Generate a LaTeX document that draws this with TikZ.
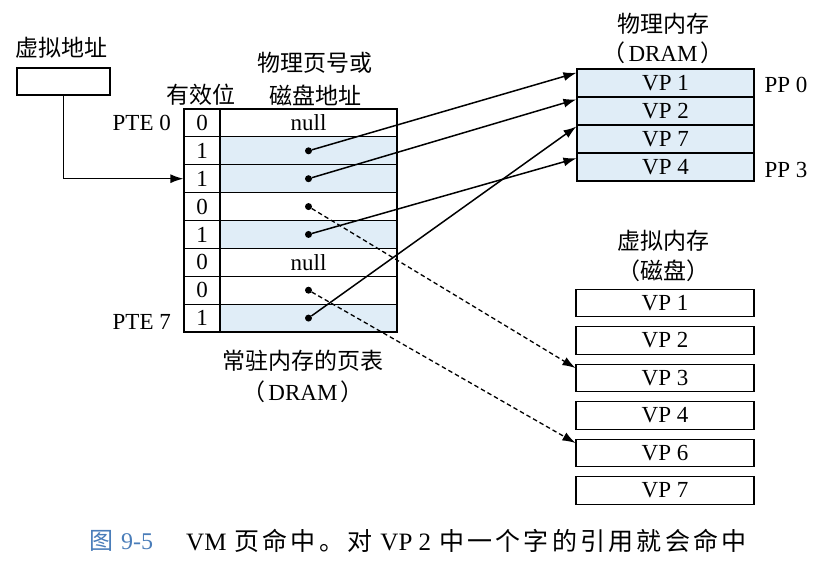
\documentclass[tikz,border=0pt]{standalone}
\usepackage{fontspec}
\setmainfont{Liberation Serif}
\newfontfamily\cjk{Noto Sans CJK SC}
\newfontfamily\cjkcap[LetterSpace=13]{Noto Sans CJK SC}
\usetikzlibrary{arrows.meta,calc}
\definecolor{cellblue}{RGB}{224,237,247}
\definecolor{capblue}{RGB}{74,125,185}
\tikzset{
  lat/.style={font=\fontsize{23}{26}\selectfont, inner sep=0pt},
  cj/.style={font=\cjk\fontsize{23}{26}\selectfont, inner sep=0pt},
  cell/.style={draw, line width=1.1pt, inner sep=0pt, minimum height=27.875pt,
    font=\fontsize{23}{26}\selectfont},
  dot/.style={circle, fill, inner sep=0pt, minimum size=7pt},
  conn/.style={line width=1.5pt, -{Latex[length=13pt,width=9pt]}},
  dconn/.style={line width=1.3pt, -{Latex[length=13pt,width=9pt]}, dash pattern=on 4.5pt off 3pt},
}
\newcommand{\lp}{{\cjk （}\hspace{3pt}}
\newcommand{\rp}{\hspace{3pt}{\cjk ）}}
\begin{document}
\begin{tikzpicture}[x=1pt,y=-1pt]
\useasboundingbox (0,0) rectangle (825,571);

% virtual address
\node[cj] (valab) at (62,48) {虚拟地址};
\node[draw, line width=1.1pt, minimum width=93pt, minimum height=27pt, inner sep=0pt] (va) at (63.5,81.5) {};

% page table headers
\node[cj] (hvalid) at (201,95) {有效位};
\node[cj] (haddr1) at (315,63) {物理页号或};
\node[cj] (haddr2) at (315,95) {磁盘地址};

% page table
\foreach \i/\v/\f/\t in {0/0/white/null,1/1/cellblue/,2/1/cellblue/,3/0/white/,4/1/cellblue/,5/0/white/null,6/0/white/,7/1/cellblue/}{
  \node[cell, minimum width=36pt] (v\i) at (202,{109+27.875*(\i+0.5)}) {\v};
  \node[cell, minimum width=177pt, fill=\f] (a\i) at (308.5,{109+27.875*(\i+0.5)}) {\t};
}
\node[lat, anchor=east] (pte0) at (171,123) {PTE 0};
\node[lat, anchor=east] (pte7) at (171,322) {PTE 7};
\node[cj] (ptlab) at (303,361) {常驻内存的页表};
\node[lat] (ptlab2) at (303,392) {\lp DRAM\rp};

\foreach \i in {1,2,3,4,6,7}{
  \node[dot] (d\i) at (a\i.center) {};
}

% physical memory
\node[cj] (pmlab) at (663,24) {物理内存};
\node[lat] (pmlab2) at (663,53) {\lp DRAM\rp};
\foreach \i/\t in {0/1,1/2,2/7,3/4}{
  \node[cell, minimum width=177pt, minimum height=28pt, fill=cellblue] (p\i) at (665.5,{69+28*(\i+0.5)}) {VP \t};
}
\node[lat] (pp0) at (786,85) {PP 0};
\node[lat] (pp3) at (786,170) {PP 3};

% virtual memory (disk)
\node[cj] (vmlab) at (663,241) {虚拟内存};
\node[cj] (vmlab2) at (663,271) {（磁盘）};
\foreach \i/\t in {0/1,1/2,2/3,3/4,4/6,5/7}{
  \node[cell, minimum width=178pt, minimum height=27.5pt] (k\t) at (665,{303+37.5*\i}) {VP \t};
}

% connectors
\draw[conn] (va.south) |- (v2.west);
\draw[conn] (d1) -- ($(p0.north west)!0.15!(p0.south west)$);
\draw[conn] (d2) -- ($(p1.north west)!0.1!(p1.south west)$);
\draw[conn] (d4) -- ($(p3.north west)!0.2!(p3.south west)$);
\draw[conn] (d7) -- ($(p2.north west)!0.07!(p2.south west)$);
\draw[dconn] (d3) -- ($(k3.north west)!0.15!(k3.south west)$);
\draw[dconn] (d6) -- ($(k6.north west)!0.15!(k6.south west)$);

% caption
\node[font=\cjk\fontsize{24}{26}\selectfont, text=capblue, anchor=west, inner sep=0pt] (capnum) at (89,541) {图\hspace{8pt}{\rmfamily 9-5}};
\node[font=\cjkcap\fontsize{25}{26}\selectfont, anchor=west, inner sep=0pt] (cap) at (186,541) {{\rmfamily VM}\hspace{8pt}页命中。对\hspace{8pt}{\rmfamily VP 2}\hspace{8pt}中一个字的引用就会命中};
\end{tikzpicture}
\end{document}
